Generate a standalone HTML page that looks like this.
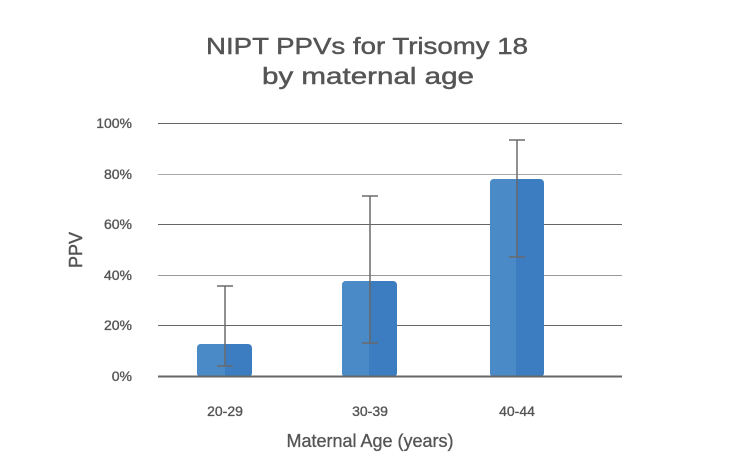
<!DOCTYPE html>
<html><head><style>body{margin:0;background:#fff}svg{display:block}</style></head><body>
<svg width="737" height="476" viewBox="0 0 737 476" xmlns="http://www.w3.org/2000/svg" font-family="Liberation Sans, sans-serif">
<g fill="#555" stroke="#555" stroke-width="0.45" font-size="23">
<text x="206" y="54" textLength="322" lengthAdjust="spacingAndGlyphs">NIPT PPVs for Trisomy 18</text>
<text x="262" y="84" textLength="212" lengthAdjust="spacingAndGlyphs">by maternal age</text>
</g>
<g stroke="#666" stroke-width="1">
<line x1="158" x2="622" y1="123.5" y2="123.5"/>
<line x1="158" x2="622" y1="174.5" y2="174.5" stroke="#aaa"/>
<line x1="158" x2="622" y1="224.5" y2="224.5"/>
<line x1="158" x2="622" y1="275.5" y2="275.5" stroke="#999"/>
<line x1="158" x2="622" y1="325.5" y2="325.5"/>
</g>
<g font-size="14" fill="#555" stroke="#555" stroke-width="0.35" text-anchor="end">
<text x="132" y="128">100%</text><text x="132" y="179">80%</text><text x="132" y="229">60%</text>
<text x="132" y="280">40%</text><text x="132" y="330">20%</text><text x="132" y="381">0%</text>
</g>
<text transform="translate(82,250) rotate(-90)" text-anchor="middle" font-size="18" fill="#555" stroke="#555" stroke-width="0.5">PPV</text>
<g>
<rect x="197" y="344" width="55" height="33" rx="4" fill="#3b7dc0"/><rect x="197" y="344" width="27" height="33" rx="4" fill="#4a8ac6"/><rect x="220" y="344" width="5" height="33" fill="#4a8ac6"/>
<rect x="342" y="281" width="55" height="96" rx="4" fill="#3b7dc0"/><rect x="342" y="281" width="27" height="96" rx="4" fill="#4a8ac6"/><rect x="365" y="281" width="4" height="96" fill="#4a8ac6"/>
<rect x="490" y="179" width="54" height="198" rx="4" fill="#3b7dc0"/><rect x="490" y="179" width="26" height="198" rx="4" fill="#4a8ac6"/><rect x="512" y="179" width="4" height="198" fill="#4a8ac6"/>
</g>
<line x1="158" x2="622" y1="376.5" y2="376.5" stroke="#666" stroke-width="2"/>
<g stroke="#6a6a6a" stroke-width="1.5">
<line x1="225" x2="225" y1="286" y2="366"/><line x1="217" x2="233" y1="286" y2="286"/><line x1="217" x2="233" y1="366" y2="366"/>
<line x1="370" x2="370" y1="196" y2="343"/><line x1="362" x2="378" y1="196" y2="196"/><line x1="362" x2="378" y1="343" y2="343"/>
<line x1="517" x2="517" y1="140" y2="257"/><line x1="509" x2="525" y1="140" y2="140"/><line x1="509" x2="525" y1="257" y2="257"/>
</g>
<g font-size="14" fill="#555" stroke="#555" stroke-width="0.35" text-anchor="middle">
<text x="225" y="416">20-29</text><text x="370" y="416">30-39</text><text x="517" y="416">40-44</text>
</g>
<text x="370" y="447" text-anchor="middle" font-size="18" fill="#555" stroke="#555" stroke-width="0.3">Maternal Age (years)</text>
</svg>
</body></html>
